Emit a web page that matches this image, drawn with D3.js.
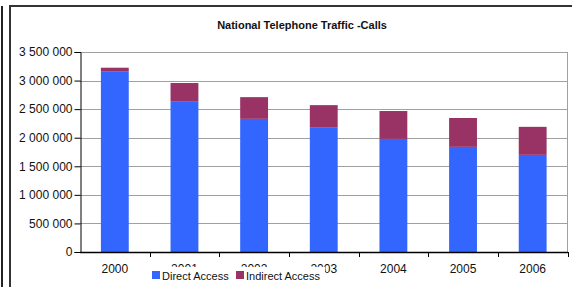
<!DOCTYPE html>
<html>
<head>
<meta charset="utf-8">
<script src="https://cdn.jsdelivr.net/npm/d3@7"></script>
<style>
  body { margin: 0; background: #fff; }
  svg { display: block; font-family: "Liberation Sans", Arial, sans-serif; }
</style>
</head>
<body>
<div id="chart"></div>
<script>
const years = ["2000", "2001", "2002", "2003", "2004", "2005", "2006"];
const directAccess = [3155000, 2640000, 2330000, 2175000, 1980000, 1840000, 1700000];
const indirectAccess = [70000, 317000, 380000, 395000, 487000, 505000, 490000];
const yTicks = [0, 500000, 1000000, 1500000, 2000000, 2500000, 3000000, 3500000];
const seriesNames = ["Direct Access", "Indirect Access"];
const seriesColors = ["#3366ff", "#993366"];

const width = 572, height = 287;
const plot = { left: 80, right: 567.5, top: 52, bottom: 252 };

const svg = d3.select("#chart").append("svg")
    .attr("width", width)
    .attr("height", height);

// outer frame lines
svg.append("line").attr("x1", 2).attr("x2", 2).attr("y1", 6).attr("y2", height)
    .attr("stroke", "#222").attr("stroke-width", 2);
svg.append("path")
    .attr("d", `M10,${height} L10,6 L${width},6`)
    .attr("fill", "none").attr("stroke", "#333").attr("stroke-width", 2);

const x = d3.scaleBand()
    .domain(years)
    .range([plot.left, plot.right])
    .paddingInner(0.6)
    .paddingOuter(0.3);

const y = d3.scaleLinear()
    .domain([0, 3500000])
    .range([plot.bottom, plot.top]);

const fmt = v => d3.format(",")(v).replace(/,/g, " ");

// gridlines
svg.append("g").selectAll("line")
    .data(yTicks.filter(t => t > 0))
    .enter().append("line")
    .attr("x1", plot.left).attr("x2", plot.right)
    .attr("y1", d => Math.round(y(d)) + 0.5).attr("y2", d => Math.round(y(d)) + 0.5)
    .attr("stroke", "#a0a0a0");

// right border of plot area
svg.append("line")
    .attr("x1", plot.right).attr("x2", plot.right)
    .attr("y1", plot.top).attr("y2", plot.bottom)
    .attr("stroke", "#a0a0a0");

// stacked bars
const stacked = years.map((yr, i) => ({ year: yr, values: [directAccess[i], indirectAccess[i]] }));
stacked.forEach(d => {
    let base = 0;
    d.values.forEach((v, k) => {
        svg.append("rect")
            .attr("x", x(d.year))
            .attr("width", x.bandwidth())
            .attr("y", y(base + v))
            .attr("height", y(base) - y(base + v))
            .attr("fill", seriesColors[k]);
        base += v;
    });
});

// y axis
const yAxis = d3.axisLeft(y).tickValues(yTicks).tickFormat(fmt).tickSize(6).tickPadding(2);
const gy = svg.append("g")
    .attr("transform", `translate(${plot.left + 0.5},0)`)
    .call(yAxis);
gy.select(".domain").attr("stroke", "#000");
gy.selectAll(".tick line").attr("stroke", "#000");
gy.selectAll("text").attr("font-size", 12).attr("fill", "#111").attr("font-family", "Liberation Sans, Arial, sans-serif");

// x axis
const gx = svg.append("g");
gx.append("line")
    .attr("x1", plot.left).attr("x2", plot.right + 0.5)
    .attr("y1", plot.bottom + 0.5).attr("y2", plot.bottom + 0.5)
    .attr("stroke", "#000").attr("stroke-width", 1.5);
const step = x.step();
const boundaries = years.map(yr => x(yr) - step * x.paddingInner() / 2).concat([plot.right]);
gx.selectAll(".xt").data(boundaries.slice(1))
    .enter().append("line")
    .attr("x1", d => Math.round(d) + 0.5).attr("x2", d => Math.round(d) + 0.5)
    .attr("y1", plot.bottom).attr("y2", plot.bottom + 5)
    .attr("stroke", "#000");
gx.selectAll(".xl").data(years)
    .enter().append("text")
    .attr("x", d => x(d) + x.bandwidth() / 2)
    .attr("y", 273)
    .attr("text-anchor", "middle")
    .attr("font-size", 12)
    .attr("fill", "#111")
    .text(d => d);

// title
svg.append("text")
    .attr("x", 302).attr("y", 29)
    .attr("text-anchor", "middle")
    .attr("font-size", 11)
    .attr("font-weight", "bold")
    .attr("fill", "#111")
    .text("National Telephone Traffic -Calls");

// legend (white box overlapping axis labels, as in the original)
const legend = svg.append("g");
legend.append("rect")
    .attr("x", 150).attr("y", 267).attr("width", 175).attr("height", 20)
    .attr("fill", "#fff");
const legendX = [152, 236];
seriesNames.forEach((name, k) => {
    legend.append("rect")
        .attr("x", legendX[k]).attr("y", 271).attr("width", 8).attr("height", 8)
        .attr("fill", seriesColors[k]);
    legend.append("text")
        .attr("x", legendX[k] + 10).attr("y", 279.5)
        .attr("font-size", 11)
        .attr("fill", "#111")
        .text(name);
});
</script>
</body>
</html>
